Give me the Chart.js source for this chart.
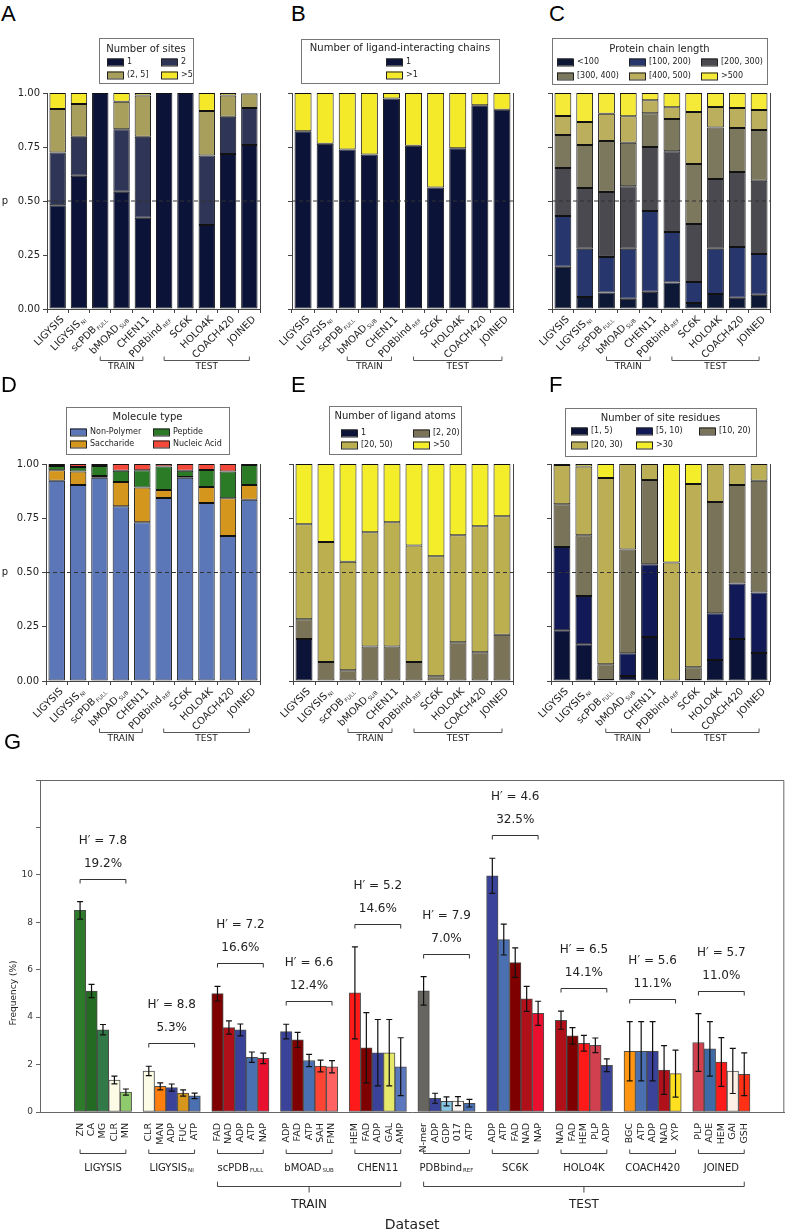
<!DOCTYPE html>
<html lang="en">
<head>
<meta charset="UTF-8">
<title>Ligand site datasets</title>
<script src="https://cdn.jsdelivr.net/npm/chart.js"></script>
<style>
  body { margin: 0; background: #fff; }
  #page { position: relative; width: 793px; height: 1232px; overflow: hidden; }
  canvas { position: absolute; }
  .letter { position: absolute; font-family: "Liberation Sans", Arial, sans-serif; font-size: 22px; line-height: 1; color: #000; z-index: 5; }
</style>
</head>
<body>
<div id="page">
  <div class="letter" style="left:1px;top:3px">A</div>
  <div class="letter" style="left:291px;top:3px">B</div>
  <div class="letter" style="left:549px;top:3px">C</div>
  <div class="letter" style="left:1px;top:374px">D</div>
  <div class="letter" style="left:291px;top:374px">E</div>
  <div class="letter" style="left:549px;top:374px">F</div>
  <div class="letter" style="left:4px;top:731px">G</div>
  <canvas id="chartA"></canvas>
  <canvas id="chartB"></canvas>
  <canvas id="chartC"></canvas>
  <canvas id="chartD"></canvas>
  <canvas id="chartE"></canvas>
  <canvas id="chartF"></canvas>
  <canvas id="chartG"></canvas>
</div>
<script>
const FONT = '"DejaVu Sans", sans-serif';

// datasets (x categories of panels A-F and groups of panel G)
const studies   = ['LIGYSIS', 'LIGYSIS', 'scPDB', 'bMOAD', 'CHEN11', 'PDBbind', 'SC6K', 'HOLO4K', 'COACH420', 'JOINED'];
const studySubs = ['', 'NI', 'FULL', 'SUB', '', 'REF', '', '', '', ''];
const splitNames  = ['TRAIN', 'TEST'];
const splitGroups = [[2, 4], [5, 9]];

// A - number of sites
const sitesCats = ['1', '2', '(2, 5]', '>5'];
const sitesOne  = [0.480, 0.617, 1.000, 0.543, 0.423, 1.000, 1.000, 0.389, 0.718, 0.759];
const sitesTwo  = [0.245, 0.181, 0, 0.289, 0.375, 0, 0, 0.322, 0.172, 0.171];
const sitesFew  = [0.201, 0.151, 0, 0.128, 0.191, 0, 0, 0.206, 0.099, 0.068];
const sitesMany = [0.074, 0.051, 0, 0.040, 0.011, 0, 0, 0.083, 0.011, 0.002];

// B - number of ligand-interacting chains
const chainCats  = ['1', '>1'];
const chainOne   = [0.823, 0.765, 0.738, 0.715, 0.974, 0.756, 0.563, 0.744, 0.943, 0.923];
const chainMulti = [0.177, 0.235, 0.262, 0.285, 0.026, 0.244, 0.437, 0.256, 0.057, 0.077];

// C - protein chain length
const lengthCats = ['<100', '[100, 200)', '[200, 300)', '[300, 400)', '[400, 500)', '>500'];
const len0   = [0.196, 0.056, 0.076, 0.048, 0.080, 0.123, 0.028, 0.069, 0.052, 0.066];
const len100 = [0.235, 0.223, 0.165, 0.231, 0.374, 0.233, 0.097, 0.210, 0.235, 0.189];
const len200 = [0.222, 0.281, 0.301, 0.289, 0.296, 0.374, 0.269, 0.323, 0.347, 0.339];
const len300 = [0.153, 0.199, 0.236, 0.202, 0.156, 0.150, 0.277, 0.238, 0.204, 0.235];
const len400 = [0.088, 0.107, 0.126, 0.122, 0.060, 0.054, 0.241, 0.095, 0.093, 0.092];
const len500 = [0.106, 0.134, 0.096, 0.108, 0.034, 0.066, 0.088, 0.065, 0.069, 0.079];

// D - molecule type
const moleculeCats = ['Non-Polymer', 'Saccharide', 'Peptide', 'Nucleic Acid'];
const nonPolymer   = [0.923, 0.903, 0.937, 0.805, 0.732, 0.843, 0.937, 0.820, 0.668, 0.835];
const saccharide   = [0.048, 0.062, 0.008, 0.112, 0.160, 0.037, 0.003, 0.074, 0.174, 0.068];
const peptide      = [0.020, 0.021, 0.046, 0.052, 0.079, 0.109, 0.029, 0.078, 0.124, 0.092];
const nucleicAcid  = [0.009, 0.014, 0.009, 0.031, 0.029, 0.011, 0.031, 0.028, 0.034, 0.005];

// E - number of ligand atoms
const atomCats = ['1', '[2, 20)', '[20, 50)', '>50'];
const atoms1   = [0.193, 0, 0, 0, 0, 0, 0, 0, 0, 0];
const atoms2   = [0.091, 0.087, 0.049, 0.159, 0.159, 0.087, 0.022, 0.179, 0.133, 0.213];
const atoms20  = [0.438, 0.554, 0.500, 0.526, 0.572, 0.537, 0.553, 0.493, 0.580, 0.546];
const atoms50  = [0.278, 0.359, 0.451, 0.315, 0.269, 0.376, 0.425, 0.328, 0.287, 0.241];

// F - number of site residues
const residueCats = ['[1, 5)', '[5, 10)', '[10, 20)', '[20, 30)', '>30'];
const res1  = [0.234, 0.169, 0.005, 0.023, 0.203, 0, 0.005, 0.097, 0.194, 0.129];
const res5  = [0.384, 0.223, 0, 0.105, 0.335, 0, 0, 0.215, 0.255, 0.279];
const res10 = [0.197, 0.280, 0.072, 0.478, 0.388, 0.002, 0.058, 0.513, 0.454, 0.515];
const res20 = [0.180, 0.317, 0.858, 0.394, 0.074, 0.544, 0.845, 0.175, 0.097, 0.077];
const res30 = [0.005, 0.011, 0.065, 0, 0, 0.454, 0.092, 0, 0, 0];

// G - top 5 ligands per dataset
const ligandGroups = [
  ['ZN', 'CA', 'MG', 'CLR', 'MN'],
  ['CLR', 'MAN', 'ADP', 'FUC', 'ATP'],
  ['FAD', 'NAD', 'ADP', 'ATP', 'NAP'],
  ['ADP', 'FAD', 'ATP', 'SAH', 'FMN'],
  ['HEM', 'FAD', 'ADP', 'GAL', 'AMP'],
  ['N-mer', 'ADP', 'GDP', '017', 'ATP'],
  ['ADP', 'ATP', 'FAD', 'NAD', 'NAP'],
  ['NAD', 'FAD', 'HEM', 'PLP', 'ADP'],
  ['BGC', 'ATP', 'ADP', 'NAD', 'XYP'],
  ['PLP', 'ADE', 'HEM', 'GAI', 'GSH']
];
const ligandFreq = [
  [8.50, 5.10, 3.47, 1.35, 0.84],
  [1.73, 1.08, 1.03, 0.80, 0.68],
  [4.99, 3.56, 3.46, 2.31, 2.26],
  [3.39, 3.04, 2.17, 1.94, 1.91],
  [5.02, 2.71, 2.50, 2.50, 1.91],
  [5.11, 0.58, 0.45, 0.46, 0.37],
  [9.96, 7.27, 6.30, 4.77, 4.16],
  [3.87, 3.21, 2.90, 2.81, 1.97],
  [2.56, 2.56, 2.56, 1.77, 1.62],
  [2.93, 2.66, 2.11, 1.73, 1.59]
];
const ligandErr = [
  [0.37, 0.28, 0.22, 0.16, 0.13],
  [0.20, 0.15, 0.15, 0.13, 0.12],
  [0.31, 0.28, 0.25, 0.22, 0.22],
  [0.31, 0.32, 0.26, 0.25, 0.26],
  [1.94, 1.48, 1.40, 1.40, 1.22],
  [0.60, 0.21, 0.19, 0.19, 0.16],
  [0.74, 0.65, 0.62, 0.53, 0.51],
  [0.38, 0.35, 0.33, 0.31, 0.27],
  [1.25, 1.25, 1.25, 1.03, 0.99],
  [1.22, 1.15, 1.03, 0.95, 0.90]
];
const shannonH  = [7.8, 8.8, 7.2, 6.6, 5.2, 7.9, 4.6, 6.5, 5.6, 5.7];
const top5Share = [19.2, 5.3, 16.6, 12.4, 14.6, 7.0, 32.5, 14.1, 11.1, 11.0];

const ligandColor = {
  ZN: '#2d7a2a', CA: '#236a22', MG: '#317a48', CLR: '#fcfce6', MN: '#8fcb6c',
  MAN: '#ff7f0e', FUC: '#d6951b', ADP: '#3a4399', ATP: '#4a70b2', FAD: '#7f0000',
  NAD: '#b0101a', NAP: '#e8102e', SAH: '#ff4433', FMN: '#ff6262', HEM: '#ff1a1a',
  GAL: '#e6e86a', AMP: '#5b78bf', 'N-mer': '#67655f', GDP: '#87c6e2', '017': '#fdf5f2',
  PLP: '#d0404e', BGC: '#ff9510', XYP: '#ffe020', ADE: '#3e6aa6', GAI: '#fdf1e6', GSH: '#ff3015'
};

const studyKeys = studies.map((s, i) => s + (studySubs[i] ? ' ' + studySubs[i] : ''));

function bracket(ctx, x1, x2, y, dir) {
  ctx.beginPath();
  ctx.moveTo(x1, y + 4 * dir);
  ctx.lineTo(x1, y);
  ctx.lineTo(x2, y);
  ctx.lineTo(x2, y + 4 * dir);
  ctx.stroke();
}

// text with a small subscript, centred on x (angle 0) or ending at x (rotated)
function subText(ctx, x, y, main, sub, size, rotated) {
  ctx.save();
  ctx.translate(x, y);
  if (rotated) ctx.rotate(-Math.PI / 4);
  ctx.font = size + 'px ' + FONT;
  const wm = ctx.measureText(main).width;
  ctx.font = (size * 0.55) + 'px ' + FONT;
  const ws = sub ? ctx.measureText(sub).width + 1 : 0;
  const start = rotated ? -(wm + ws) : -(wm + ws) / 2;
  ctx.fillStyle = '#222';
  ctx.textAlign = 'left';
  ctx.textBaseline = 'middle';
  ctx.font = size + 'px ' + FONT;
  ctx.fillText(main, start, 0);
  if (sub) {
    ctx.font = (size * 0.55) + 'px ' + FONT;
    ctx.fillText(sub, start + wm + 1, size * 0.3);
  }
  ctx.restore();
}

function panelDecor(p) {
  const ox = p.canvas[0], oy = p.canvas[1];
  return {
    id: 'panelDecor',
    afterDatasetsDraw(chart) {
      const ctx = chart.ctx, a = chart.chartArea;
      const y5 = chart.scales.y.getPixelForValue(0.5);
      ctx.save();
      ctx.strokeStyle = '#333';
      ctx.lineWidth = 1;
      ctx.setLineDash([4, 3]);
      ctx.beginPath();
      ctx.moveTo(a.left, y5);
      ctx.lineTo(a.right, y5);
      ctx.stroke();
      ctx.restore();
    },
    afterDraw(chart) {
      const ctx = chart.ctx, a = chart.chartArea, xs = chart.scales.x;
      ctx.save();
      ctx.strokeStyle = '#444';
      ctx.lineWidth = 1;
      ctx.beginPath();
      ctx.moveTo(a.right + 0.5, a.top);
      ctx.lineTo(a.right + 0.5, a.bottom);
      ctx.stroke();

      if (p.yLabels) {
        ctx.fillStyle = '#222';
        ctx.font = '10px ' + FONT;
        ctx.textAlign = 'center';
        ctx.textBaseline = 'middle';
        ctx.fillText('p', 5, chart.scales.y.getPixelForValue(0.5));
      }

      studies.forEach((s, i) => {
        subText(ctx, xs.getPixelForValue(i) + 5, a.bottom + 9, s, studySubs[i], 10, true);
      });

      ctx.strokeStyle = '#555';
      splitGroups.forEach((g, k) => {
        const x1 = xs.getPixelForValue(g[0]), x2 = xs.getPixelForValue(g[1]);
        bracket(ctx, x1, x2, a.bottom + 51.5, -1);
        ctx.fillStyle = '#222';
        ctx.font = '9px ' + FONT;
        ctx.textAlign = 'center';
        ctx.textBaseline = 'middle';
        ctx.fillText(splitNames[k], (x1 + x2) / 2, a.bottom + 58);
      });

      // legend box
      const lg = p.legend, [x0, y0, x1, y1] = lg.box;
      ctx.fillStyle = '#fff';
      ctx.fillRect(x0 - ox, y0 - oy, x1 - x0, y1 - y0);
      ctx.strokeStyle = '#777';
      ctx.strokeRect(x0 - ox + 0.5, y0 - oy + 0.5, x1 - x0, y1 - y0);
      ctx.fillStyle = '#222';
      ctx.font = '10px ' + FONT;
      ctx.textAlign = 'center';
      ctx.textBaseline = 'middle';
      ctx.fillText(lg.title, (x0 + x1) / 2 - ox, lg.titleY - oy);
      const order = lg.order || chart.data.datasets.map((d, i) => i);
      order.forEach((di, k) => {
        const ds = chart.data.datasets[di];
        const col = k % lg.cols.length, row = Math.floor(k / lg.cols.length);
        const px = lg.cols[col] - ox, py = lg.rows[row] - oy;
        ctx.fillStyle = ds.backgroundColor;
        ctx.fillRect(px, py - 3.5, 16, 7);
        ctx.strokeStyle = '#222';
        ctx.strokeRect(px + 0.5, py - 3, 16, 7);
        ctx.fillStyle = '#222';
        ctx.font = '8px ' + FONT;
        ctx.textAlign = 'left';
        ctx.fillText(ds.label, px + 20, py);
      });
      ctx.restore();
    }
  };
}

function makePanel(p) {
  const canvas = document.getElementById(p.id);
  const [cl, ct, cw, ch] = p.canvas;
  const [al, at, ar, ab] = p.area;
  canvas.width = cw;
  canvas.height = ch;
  canvas.style.left = cl + 'px';
  canvas.style.top = ct + 'px';
  return new Chart(canvas, {
    type: 'bar',
    data: {
      labels: studyKeys,
      datasets: p.series.map((s, i) => ({
        label: p.cats[i],
        data: s,
        backgroundColor: p.colors[i],
        borderColor: '#111',
        borderWidth: 1,
        borderSkipped: false,
        barPercentage: 0.77,
        categoryPercentage: 1
      }))
    },
    options: {
      responsive: false,
      animation: false,
      devicePixelRatio: 1,
      layout: { padding: { top: at - ct, right: cl + cw - ar, left: 0, bottom: 0 } },
      plugins: { legend: { display: false }, tooltip: { enabled: false } },
      scales: {
        x: {
          stacked: true,
          ticks: { display: false },
          grid: { drawOnChartArea: false, tickLength: 4, color: '#444' },
          border: { color: '#444' },
          afterFit: s => { s.height = ct + ch - ab; }
        },
        y: {
          stacked: true,
          min: 0,
          max: 1,
          ticks: {
            display: p.yLabels,
            stepSize: 0.25,
            callback: v => v.toFixed(2),
            font: { family: FONT, size: 10 },
            color: '#222',
            padding: 3
          },
          grid: { drawOnChartArea: false, tickLength: 4, color: '#444' },
          border: { color: '#444' },
          afterFit: s => { s.width = al - cl; }
        }
      }
    },
    plugins: [panelDecor(p)]
  });
}

makePanel({
  id: 'chartA', canvas: [0, 30, 265, 350], area: [47, 93, 260, 309], yLabels: true,
  cats: sitesCats, series: [sitesOne, sitesTwo, sitesFew, sitesMany],
  colors: ['#0b1338', '#2f3556', '#a99f5d', '#f4e829'],
  legend: { title: 'Number of sites', box: [99, 38, 193, 83], titleY: 49, cols: [107, 161], rows: [62, 75] }
});
makePanel({
  id: 'chartB', canvas: [265, 30, 262, 350], area: [292, 93, 513, 309], yLabels: false,
  cats: chainCats, series: [chainOne, chainMulti],
  colors: ['#0b1338', '#f4ea2a'],
  legend: { title: 'Number of ligand-interacting chains', box: [301, 39, 499, 83], titleY: 48, cols: [386], rows: [62, 75] }
});
makePanel({
  id: 'chartC', canvas: [527, 30, 266, 350], area: [552, 93, 770, 309], yLabels: false,
  cats: lengthCats, series: [len0, len100, len200, len300, len400, len500],
  colors: ['#0d1836', '#28366e', '#49494f', '#7b785e', '#bbae5c', '#f6ea38'],
  legend: { title: 'Protein chain length', box: [552, 38, 767, 84], titleY: 49, cols: [557, 629, 701], rows: [62, 76] }
});
makePanel({
  id: 'chartD', canvas: [0, 400, 265, 355], area: [46, 464, 260, 681], yLabels: true,
  cats: moleculeCats, series: [nonPolymer, saccharide, peptide, nucleicAcid],
  colors: ['#5c77b8', '#d4961c', '#2b7a26', '#f4483a'],
  legend: { title: 'Molecule type', box: [66, 407, 229, 454], titleY: 417, cols: [70, 153], rows: [432, 444], order: [0, 2, 1, 3] }
});
makePanel({
  id: 'chartE', canvas: [265, 400, 262, 355], area: [293, 464, 513, 681], yLabels: false,
  cats: atomCats, series: [atoms1, atoms2, atoms20, atoms50],
  colors: ['#0b1338', '#7a7357', '#bcaf50', '#f4ee2a'],
  legend: { title: 'Number of ligand atoms', box: [329, 406, 461, 454], titleY: 416, cols: [341, 413], rows: [433, 445] }
});
makePanel({
  id: 'chartF', canvas: [527, 400, 266, 355], area: [551, 464, 770, 681], yLabels: false,
  cats: residueCats, series: [res1, res5, res10, res20, res30],
  colors: ['#0b1338', '#111a56', '#797359', '#bbae55', '#f4ee2a'],
  legend: { title: 'Number of site residues', box: [565, 408, 756, 456], titleY: 418, cols: [571, 636, 699], rows: [431, 445] }
});

// ---- panel G ----
const gLabels = [], gValues = [], gErrors = [], gColors = [], groupStart = [];
function gBlank() { gLabels.push(''); gValues.push(null); gErrors.push(0); gColors.push('#fff'); }
for (let i = 0; i < 3; i++) gBlank();
ligandGroups.forEach((g, gi) => {
  if (gi > 0) gBlank();
  groupStart.push(gLabels.length);
  g.forEach((lig, li) => {
    gLabels.push(lig);
    gValues.push(ligandFreq[gi][li]);
    gErrors.push(ligandErr[gi][li]);
    gColors.push(ligandColor[lig]);
  });
});
for (let i = 0; i < 3; i++) gBlank();

const errorBars = {
  id: 'errorBars',
  afterDatasetsDraw(chart) {
    const ctx = chart.ctx, ys = chart.scales.y, ds = chart.data.datasets[0];
    ctx.save();
    ctx.strokeStyle = '#111';
    ctx.lineWidth = 1.2;
    chart.getDatasetMeta(0).data.forEach((bar, i) => {
      const v = ds.data[i];
      if (v == null) return;
      const top = ys.getPixelForValue(v + ds.errors[i]), bot = ys.getPixelForValue(v - ds.errors[i]);
      ctx.beginPath();
      ctx.moveTo(bar.x, top); ctx.lineTo(bar.x, bot);
      ctx.moveTo(bar.x - 3, top); ctx.lineTo(bar.x + 3, top);
      ctx.moveTo(bar.x - 3, bot); ctx.lineTo(bar.x + 3, bot);
      ctx.stroke();
    });
    ctx.restore();
  }
};

const gDecor = {
  id: 'gDecor',
  afterDraw(chart) {
    const ctx = chart.ctx, a = chart.chartArea, xs = chart.scales.x, ys = chart.scales.y;
    ctx.save();
    ctx.strokeStyle = '#666';
    ctx.lineWidth = 1;
    ctx.beginPath();
    ctx.moveTo(a.left, a.top + 0.5);
    ctx.lineTo(a.right - 0.5, a.top + 0.5);
    ctx.lineTo(a.right - 0.5, a.bottom);
    ctx.stroke();

    ctx.textAlign = 'center';
    ctx.textBaseline = 'middle';
    groupStart.forEach((s, gi) => {
      const x1 = xs.getPixelForValue(s), x2 = xs.getPixelForValue(s + 4), xc = (x1 + x2) / 2;
      let peak = 0;
      ligandFreq[gi].forEach((v, k) => { peak = Math.max(peak, v + ligandErr[gi][k]); });
      const yb = Math.round(ys.getPixelForValue(peak) - 23) + 0.5;
      ctx.strokeStyle = '#333';
      bracket(ctx, x1, x2, yb, 1);
      ctx.fillStyle = '#222';
      ctx.font = '12px ' + FONT;
      ctx.fillText(top5Share[gi].toFixed(1) + '%', xc, yb - 16);
      ctx.fillText('H\u2032 = ' + shannonH[gi].toFixed(1), xc, yb - 39);

      ctx.strokeStyle = '#444';
      bracket(ctx, x1, x2, a.bottom + 41.5, -1);
      subText(ctx, xc, a.bottom + 56, studies[gi], studySubs[gi], 10, false);
    });

    splitGroups.forEach((g, k) => {
      const x1 = xs.getPixelForValue(groupStart[g[0]]), x2 = xs.getPixelForValue(groupStart[g[1]] + 4);
      const xc = (x1 + x2) / 2, yb = a.bottom + 74.5;
      ctx.strokeStyle = '#444';
      bracket(ctx, x1, x2, yb, -1.2);
      ctx.beginPath();
      ctx.moveTo(xc, yb);
      ctx.lineTo(xc, yb + 6);
      ctx.stroke();
      ctx.fillStyle = '#222';
      ctx.font = '12px ' + FONT;
      ctx.textAlign = 'center';
      ctx.fillText(splitNames[k], xc, a.bottom + 93);
    });

    ctx.fillStyle = '#222';
    ctx.font = '14px ' + FONT;
    ctx.fillText('Dataset', (a.left + a.right) / 2, a.bottom + 113);

    ctx.translate(14, a.bottom - 119);
    ctx.rotate(-Math.PI / 2);
    ctx.font = '9px ' + FONT;
    ctx.fillText('Frequency (%)', 0, 0);
    ctx.restore();
  }
};

const canvasG = document.getElementById('chartG');
canvasG.width = 793;
canvasG.height = 472;
canvasG.style.left = '0px';
canvasG.style.top = '760px';
new Chart(canvasG, {
  type: 'bar',
  data: {
    labels: gLabels,
    datasets: [{
      data: gValues,
      errors: gErrors,
      backgroundColor: gColors,
      borderColor: '#4d4d4d',
      borderWidth: 1,
      borderSkipped: false,
      barPercentage: 1,
      categoryPercentage: 1
    }]
  },
  options: {
    responsive: false,
    animation: false,
    devicePixelRatio: 1,
    layout: { padding: { top: 20, right: 1, left: 0, bottom: 0 } },
    plugins: { legend: { display: false }, tooltip: { enabled: false } },
    scales: {
      x: {
        grid: { display: false },
        border: { color: '#666' },
        ticks: {
          autoSkip: false, minRotation: 90, maxRotation: 90, padding: 3,
          font: { family: FONT, size: 9.5 }, color: '#222'
        },
        afterFit: s => { s.height = 120; }
      },
      y: {
        min: 0,
        max: 14,
        ticks: {
          stepSize: 2,
          callback: v => (v <= 10 ? v : ''),
          font: { family: FONT, size: 9 },
          color: '#333',
          padding: 3
        },
        grid: { drawOnChartArea: false, tickLength: 4, color: '#666' },
        border: { color: '#666' },
        afterFit: s => { s.width = 40; }
      }
    }
  },
  plugins: [errorBars, gDecor]
});
</script>
</body>
</html>
